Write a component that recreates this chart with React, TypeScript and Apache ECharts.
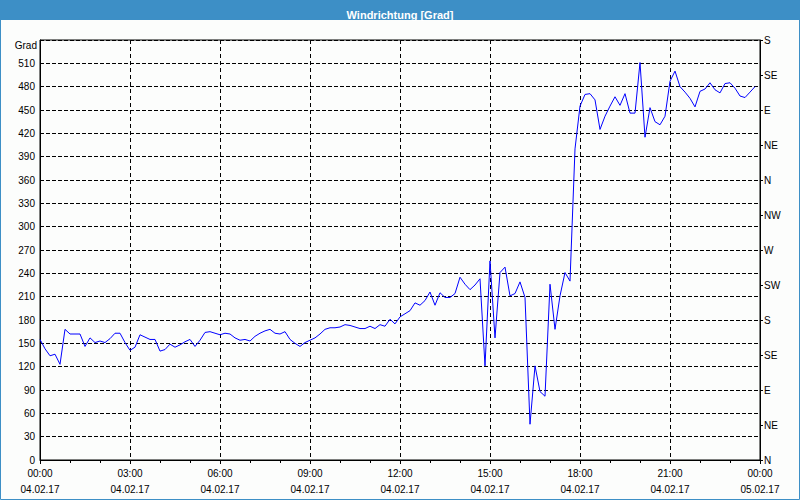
import React, { useEffect, useRef } from "react";
import * as echarts from "echarts";

const chartTitle = "Windrichtung [Grad]";
const yAxisName = "Grad";
const stepMinutes = 10;
// wind direction in degrees, one value every 10 minutes from 00:00
const windValues = [
  155, 143, 134, 136, 123, 168, 162, 162, 162, 146,
  157, 151, 153, 151, 156, 163, 163, 151, 141, 145,
  161, 158, 155, 155, 140, 142, 149, 145, 148, 152,
  155, 146, 154, 164, 165, 163, 161, 163, 162, 157,
  154, 155, 153, 159, 163, 166, 168, 163, 162, 165,
  155, 150, 146, 151, 154, 157, 162, 168, 170, 170,
  171, 174, 173, 171, 169, 169, 172, 169, 174, 172,
  181, 175, 184, 188, 192, 202, 199, 205, 216, 199,
  215, 209, 209, 214, 235, 226, 219, 225, 233, 121,
  256, 157, 241, 248, 211, 214, 229, 209, 46, 121,
  88, 82, 226, 168, 211, 241, 230, 400, 455, 470,
  471, 463, 425, 442, 455, 467, 456, 471, 446, 446,
  511, 415, 453, 435, 431, 442, 487, 500, 480, 473,
  465, 454, 474, 477, 485, 476, 472, 484, 485, 478,
  468, 466, 473, 480,
];
const xTickTimes = ["00:00", "03:00", "06:00", "09:00", "12:00", "15:00", "18:00", "21:00", "00:00"];
const xTickDates = ["04.02.17", "04.02.17", "04.02.17", "04.02.17", "04.02.17", "04.02.17", "04.02.17", "04.02.17", "05.02.17"];
const directionLabels = ["N", "NE", "E", "SE", "S", "SW", "W", "NW", "N", "NE", "E", "SE", "S"];

const FONT = "'Liberation Sans', Arial, sans-serif";
const BAR = "#3d8fc6";

export default function App() {
  const ref = useRef<HTMLDivElement>(null);
  useEffect(() => {
    if (!ref.current) return;
    const chart = echarts.init(ref.current, undefined, { renderer: "svg" });
    const data = windValues.map((v, i) => [i * stepMinutes, v]);
    chart.setOption({
      animation: false,
      backgroundColor: "#fcfdfc",
      textStyle: { fontFamily: FONT },
      title: {
        text: chartTitle,
        left: "center",
        top: 4,
        textStyle: { color: "#ffffff", fontSize: 11, fontWeight: "bold", fontFamily: FONT },
      },
      graphic: [
        { type: "rect", z: 0, shape: { x: 0, y: 0, width: 800, height: 20 }, style: { fill: BAR } },
        {
          type: "rect",
          z: 0,
          shape: { x: 0.5, y: 0.5, width: 799, height: 499 },
          style: { fill: "none", stroke: BAR, lineWidth: 1 },
        },
        {
          type: "text",
          x: 37,
          y: 45,
          style: {
            text: yAxisName,
            align: "right",
            verticalAlign: "middle",
            fill: "#000",
            font: `10px ${FONT}`,
          },
        },
      ],
      grid: {
        left: 40,
        right: 40,
        top: 40,
        bottom: 40,
        show: true,
        borderColor: "#000",
        borderWidth: 1,
        backgroundColor: "transparent",
      },
      xAxis: {
        type: "value",
        min: 0,
        max: 1440,
        interval: 180,
        axisLine: { show: true, lineStyle: { color: "#000", width: 1 } },
        axisTick: { show: true, length: 4, lineStyle: { color: "#000" } },
        minorTick: { show: true, splitNumber: 3, length: 3, lineStyle: { color: "#000" } },
        splitLine: { show: true, lineStyle: { color: "#000", type: [4, 3], width: 1 } },
        axisLabel: {
          color: "#000",
          fontSize: 10,
          fontFamily: FONT,
          margin: 5,
          lineHeight: 16,
          showMinLabel: true,
          showMaxLabel: true,
          formatter: (v: number) => {
            const idx = Math.round(v / 180);
            return `${xTickTimes[idx]}\n${xTickDates[idx]}`;
          },
        },
      },
      yAxis: [
        {
          type: "value",
          min: 0,
          max: 540,
          interval: 30,
          position: "left",
          axisLine: { show: true, lineStyle: { color: "#000", width: 1 } },
          axisTick: { show: false },
          splitLine: { show: true, lineStyle: { color: "#000", type: [4, 2], width: 1 } },
          axisLabel: {
            color: "#000",
            fontSize: 10,
            fontFamily: FONT,
            margin: 5,
            formatter: (v: number) => (v >= 540 ? "" : String(v)),
          },
        },
        {
          type: "value",
          min: 0,
          max: 540,
          interval: 45,
          position: "right",
          axisLine: { show: true, lineStyle: { color: "#000", width: 1 } },
          axisTick: { show: true, length: 3, lineStyle: { color: "#000" } },
          splitLine: { show: false },
          axisLabel: {
            color: "#000",
            fontSize: 10,
            fontFamily: FONT,
            margin: 4,
            formatter: (v: number) => directionLabels[Math.round(v / 45)] ?? "",
          },
        },
      ],
      series: [
        {
          type: "line",
          yAxisIndex: 0,
          data,
          showSymbol: false,
          symbol: "none",
          lineStyle: { color: "#0000ff", width: 1 },
          silent: true,
        },
      ],
    });
    return () => chart.dispose();
  }, []);
  return (
    <div
      ref={ref}
      style={{ position: "fixed", left: 0, top: 0, width: 800, height: 500 }}
    />
  );
}
